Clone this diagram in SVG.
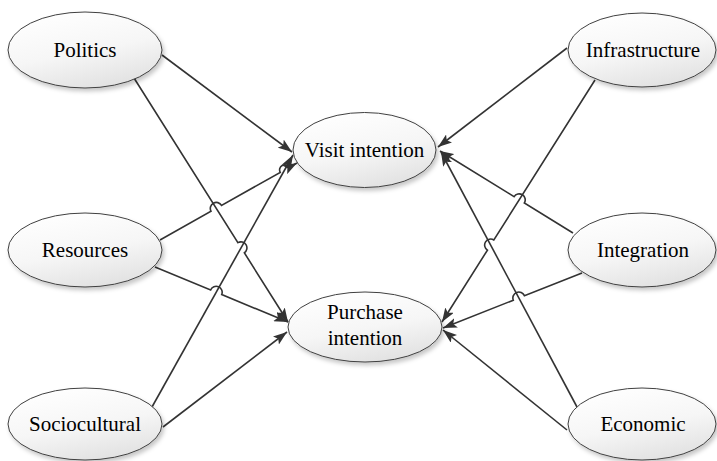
<svg xmlns="http://www.w3.org/2000/svg" width="717" height="461" viewBox="0 0 717 461">
<style>
.node ellipse{fill:url(#g);stroke:#404040;stroke-width:1;filter:url(#sh)}
.node text{font-family:"Liberation Serif","Times New Roman",serif;font-size:21px;fill:#000;text-anchor:middle}
.edges path{fill:none;stroke:#333;stroke-width:1.6;marker-end:url(#ah)}
</style>
<defs>
<linearGradient id="g" x1="0.2" y1="0" x2="0.6" y2="1">
<stop offset="0" stop-color="#ffffff"/>
<stop offset="0.55" stop-color="#f6f6f6"/>
<stop offset="1" stop-color="#e2e2e2"/>
</linearGradient>
<filter id="sh" x="-20%" y="-20%" width="140%" height="150%">
<feDropShadow dx="2" dy="3" stdDeviation="2" flood-color="#000" flood-opacity="0.22"/>
</filter>
<marker id="ah" viewBox="0 0 14 10" refX="14" refY="5" markerWidth="14" markerHeight="10" markerUnits="userSpaceOnUse" orient="auto">
<path d="M0,0 L14,5 L0,10 L3,5 Z" fill="#333"/>
</marker>
</defs>
<g class="edges" id="connectors">
<path d="M162,55 L292,152"/>
<path d="M134,78 L237.92,242.65 A6,6 0 0 1 244.32,252.79 L288,322"/>
<path d="M160,240 L211.05,211.31 A6,6 0 0 1 221.51,205.43 L280.24,172.35 A5,5 0 0 1 288.96,167.45 L297,163"/>
<path d="M155,267 L210.63,290 A6,6 0 0 1 221.73,294.58 L288,322"/>
<path d="M152,407 L293,155"/>
<path d="M163,427 L287,332"/>
<path d="M567,48 L438,147"/>
<path d="M595,80 L493.85,240 A6,6 0 0 0 487.43,250.14 L442,322"/>
<path d="M573,233 L524.34,203 A6,6 0 0 0 514.12,196.7 L440,151"/>
<path d="M582,273 L524.44,295.77 A6,6 0 0 0 513.28,300.19 L443,328"/>
<path d="M577,407 L441,152"/>
<path d="M567,430 L443,330"/>
</g>
<g class="node" id="politics"><ellipse cx="85" cy="50" rx="77" ry="38"/><text x="85" y="57">Politics</text></g>
<g class="node" id="infrastructure"><ellipse cx="642" cy="50" rx="74" ry="37"/><text x="643" y="57">Infrastructure</text></g>
<g class="node" id="visit"><ellipse cx="364.5" cy="150" rx="71.5" ry="37.5"/><text x="364.5" y="157">Visit intention</text></g>
<g class="node" id="resources"><ellipse cx="85" cy="250" rx="77" ry="37"/><text x="85" y="257">Resources</text></g>
<g class="node" id="integration"><ellipse cx="642" cy="250" rx="74" ry="37"/><text x="643" y="257">Integration</text></g>
<g class="node" id="purchase"><ellipse cx="365" cy="327" rx="77" ry="35"/><text x="365" y="319">Purchase</text><text x="365" y="345">intention</text></g>
<g class="node" id="sociocultural"><ellipse cx="85" cy="424" rx="77" ry="36"/><text x="85" y="431">Sociocultural</text></g>
<g class="node" id="economic"><ellipse cx="642" cy="424" rx="74" ry="36"/><text x="643" y="431">Economic</text></g>
</svg>
